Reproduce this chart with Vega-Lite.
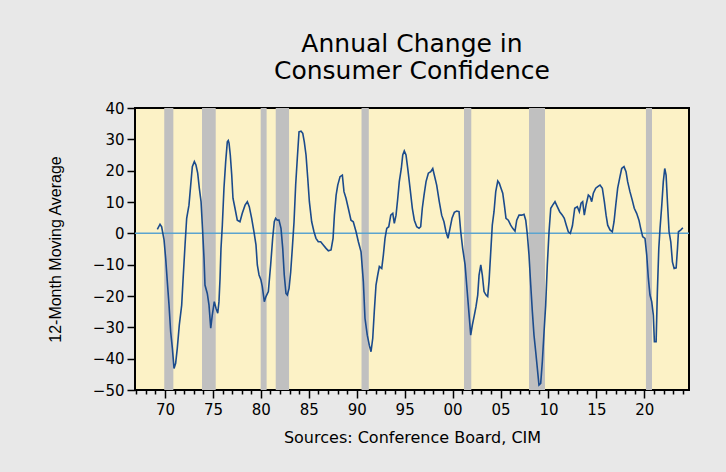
{
  "$schema": "https://vega.github.io/schema/vega-lite/v6.json",
  "width": 554,
  "height": 282,
  "autosize": {"type": "none"},
  "padding": {"left": 135, "top": 108, "right": 37, "bottom": 82},
  "background": "#E8E8E8",
  "title": {
    "text": ["Annual Change in", "Consumer Confidence"],
    "font": "DejaVu Sans",
    "fontSize": 25,
    "fontWeight": "normal",
    "color": "#000000",
    "anchor": "middle",
    "offset": 17,
    "lineHeight": 27
  },
  "config": {"view": {"stroke": "#000000", "strokeWidth": 2, "fill": "#FCF2C6"}},
  "datasets": {
    "recessions": [
      {"t": 1969.92, "t2": 1970.87},
      {"t": 1973.86, "t2": 1975.29},
      {"t": 1979.98, "t2": 1980.6},
      {"t": 1981.55, "t2": 1982.94},
      {"t": 1990.5, "t2": 1991.26},
      {"t": 2001.19, "t2": 2001.95},
      {"t": 2007.97, "t2": 2009.64},
      {"t": 2020.17, "t2": 2020.8}
    ],
    "zero": [{"v": 0}],
    "cci": [
      {"t": 1969.2, "v": 1.3}, {"t": 1969.48, "v": 2.9}, {"t": 1969.65, "v": 2.1}, {"t": 1969.9, "v": -2.1},
      {"t": 1970.07, "v": -8}, {"t": 1970.24, "v": -15.4}, {"t": 1970.42, "v": -22.9}, {"t": 1970.59, "v": -31.4},
      {"t": 1970.77, "v": -36.7}, {"t": 1970.94, "v": -43.1}, {"t": 1971.11, "v": -41.5}, {"t": 1971.28, "v": -36.7},
      {"t": 1971.49, "v": -29.3}, {"t": 1971.74, "v": -22.9}, {"t": 1971.91, "v": -13.3}, {"t": 1972.09, "v": -3.7},
      {"t": 1972.26, "v": 4.8}, {"t": 1972.5, "v": 9.0}, {"t": 1972.68, "v": 15.4}, {"t": 1972.85, "v": 21.3},
      {"t": 1973.06, "v": 22.9}, {"t": 1973.23, "v": 21.8}, {"t": 1973.41, "v": 19.2}, {"t": 1973.58, "v": 14.4},
      {"t": 1973.76, "v": 10.1}, {"t": 1973.93, "v": 0.5}, {"t": 1974.07, "v": -8}, {"t": 1974.17, "v": -16.5},
      {"t": 1974.41, "v": -19.2}, {"t": 1974.59, "v": -22.9}, {"t": 1974.77, "v": -30.3}, {"t": 1974.93, "v": -26.1},
      {"t": 1975.14, "v": -21.8}, {"t": 1975.32, "v": -23.9}, {"t": 1975.5, "v": -25.5}, {"t": 1975.63, "v": -21.8},
      {"t": 1975.74, "v": -14.4}, {"t": 1975.84, "v": -4.8}, {"t": 1975.98, "v": 2.6}, {"t": 1976.15, "v": 14.4},
      {"t": 1976.33, "v": 22.9}, {"t": 1976.5, "v": 29.2}, {"t": 1976.6, "v": 29.6}, {"t": 1976.68, "v": 28.8},
      {"t": 1976.81, "v": 25}, {"t": 1976.96, "v": 18.6}, {"t": 1977.09, "v": 11.2}, {"t": 1977.3, "v": 8.0},
      {"t": 1977.54, "v": 4.2}, {"t": 1977.82, "v": 3.7}, {"t": 1978.06, "v": 6.4}, {"t": 1978.35, "v": 9.0},
      {"t": 1978.59, "v": 10.1}, {"t": 1978.79, "v": 8.5}, {"t": 1979.04, "v": 4.8}, {"t": 1979.28, "v": 0.5},
      {"t": 1979.49, "v": -3.7}, {"t": 1979.63, "v": -10.1}, {"t": 1979.81, "v": -13.3}, {"t": 1980.0, "v": -14.8},
      {"t": 1980.15, "v": -17}, {"t": 1980.36, "v": -21.8}, {"t": 1980.53, "v": -20.2}, {"t": 1980.78, "v": -18.6},
      {"t": 1981.02, "v": -10.1}, {"t": 1981.23, "v": -1.6}, {"t": 1981.4, "v": 3.7}, {"t": 1981.54, "v": 4.8},
      {"t": 1981.71, "v": 4.2}, {"t": 1981.89, "v": 4.2}, {"t": 1982.1, "v": 1.6}, {"t": 1982.28, "v": -4.8},
      {"t": 1982.44, "v": -13.3}, {"t": 1982.62, "v": -19.2}, {"t": 1982.76, "v": -19.7}, {"t": 1982.94, "v": -17.6},
      {"t": 1983.11, "v": -12.3}, {"t": 1983.28, "v": -4.8}, {"t": 1983.46, "v": 3.7}, {"t": 1983.63, "v": 15.4},
      {"t": 1983.8, "v": 23.9}, {"t": 1983.98, "v": 32.4}, {"t": 1984.19, "v": 32.6}, {"t": 1984.37, "v": 31.9},
      {"t": 1984.53, "v": 29.2}, {"t": 1984.71, "v": 25}, {"t": 1984.89, "v": 17.6}, {"t": 1985.06, "v": 10.1},
      {"t": 1985.3, "v": 3.7}, {"t": 1985.54, "v": 0.5}, {"t": 1985.75, "v": -1.6}, {"t": 1985.99, "v": -2.7},
      {"t": 1986.24, "v": -2.7}, {"t": 1986.51, "v": -3.7}, {"t": 1986.8, "v": -4.8}, {"t": 1987.04, "v": -5.6},
      {"t": 1987.32, "v": -5.3}, {"t": 1987.53, "v": -1.6}, {"t": 1987.67, "v": 5.8}, {"t": 1987.85, "v": 12.2},
      {"t": 1988.02, "v": 15.4}, {"t": 1988.26, "v": 18.1}, {"t": 1988.5, "v": 18.6}, {"t": 1988.67, "v": 13.3},
      {"t": 1988.88, "v": 11.2}, {"t": 1989.12, "v": 8.0}, {"t": 1989.4, "v": 4.2}, {"t": 1989.64, "v": 3.7},
      {"t": 1989.93, "v": 0.5}, {"t": 1990.17, "v": -2.7}, {"t": 1990.45, "v": -5.9}, {"t": 1990.69, "v": -15.4},
      {"t": 1990.86, "v": -27.1}, {"t": 1991.1, "v": -32.5}, {"t": 1991.31, "v": -35.7}, {"t": 1991.49, "v": -37.8},
      {"t": 1991.67, "v": -33.5}, {"t": 1991.83, "v": -25}, {"t": 1992.01, "v": -16.5}, {"t": 1992.19, "v": -13.3},
      {"t": 1992.36, "v": -10.6}, {"t": 1992.61, "v": -11.2}, {"t": 1992.78, "v": -6.9}, {"t": 1992.95, "v": -1.6},
      {"t": 1993.13, "v": 1.6}, {"t": 1993.34, "v": 2.1}, {"t": 1993.55, "v": 5.8}, {"t": 1993.76, "v": 6.4},
      {"t": 1993.92, "v": 3.2}, {"t": 1994.1, "v": 5.8}, {"t": 1994.28, "v": 11.2}, {"t": 1994.44, "v": 16.5},
      {"t": 1994.65, "v": 20.7}, {"t": 1994.8, "v": 25}, {"t": 1994.96, "v": 26.3}, {"t": 1995.14, "v": 25},
      {"t": 1995.32, "v": 20.7}, {"t": 1995.56, "v": 14.4}, {"t": 1995.8, "v": 8.0}, {"t": 1996.01, "v": 4.2},
      {"t": 1996.26, "v": 2.1}, {"t": 1996.5, "v": 1.6}, {"t": 1996.67, "v": 2.1}, {"t": 1996.84, "v": 8.0},
      {"t": 1997.02, "v": 12.2}, {"t": 1997.23, "v": 16.5}, {"t": 1997.47, "v": 19.2}, {"t": 1997.72, "v": 19.7},
      {"t": 1997.93, "v": 20.7}, {"t": 1998.09, "v": 18.6}, {"t": 1998.34, "v": 15.4}, {"t": 1998.61, "v": 10.1},
      {"t": 1998.86, "v": 5.8}, {"t": 1999.1, "v": 3.7}, {"t": 1999.31, "v": 0.5}, {"t": 1999.52, "v": -1.6},
      {"t": 1999.73, "v": 1.6}, {"t": 1999.94, "v": 4.8}, {"t": 2000.18, "v": 6.7}, {"t": 2000.43, "v": 7.1},
      {"t": 2000.67, "v": 6.9}, {"t": 2000.85, "v": 0.5}, {"t": 2001.05, "v": -4.8}, {"t": 2001.3, "v": -10},
      {"t": 2001.47, "v": -16.5}, {"t": 2001.64, "v": -22.9}, {"t": 2001.89, "v": -32.5}, {"t": 2002.06, "v": -29.3},
      {"t": 2002.27, "v": -26.1}, {"t": 2002.44, "v": -23.4}, {"t": 2002.62, "v": -19.7}, {"t": 2002.76, "v": -13.3},
      {"t": 2002.94, "v": -10.1}, {"t": 2003.1, "v": -13.3}, {"t": 2003.28, "v": -18.6}, {"t": 2003.49, "v": -19.7},
      {"t": 2003.66, "v": -20.2}, {"t": 2003.8, "v": -15.4}, {"t": 2003.98, "v": -5.9}, {"t": 2004.14, "v": 2.6},
      {"t": 2004.32, "v": 6.9}, {"t": 2004.5, "v": 13.3}, {"t": 2004.71, "v": 16.7}, {"t": 2004.87, "v": 16},
      {"t": 2005.05, "v": 14.4}, {"t": 2005.23, "v": 12.8}, {"t": 2005.4, "v": 9.0}, {"t": 2005.57, "v": 4.8},
      {"t": 2005.81, "v": 4.2}, {"t": 2006.06, "v": 2.6}, {"t": 2006.27, "v": 1.6}, {"t": 2006.51, "v": 0.7},
      {"t": 2006.69, "v": 4.2}, {"t": 2006.93, "v": 5.8}, {"t": 2007.21, "v": 5.8}, {"t": 2007.45, "v": 6.1},
      {"t": 2007.63, "v": 4.2}, {"t": 2007.8, "v": -0.5}, {"t": 2007.97, "v": -6.9}, {"t": 2008.15, "v": -16.5},
      {"t": 2008.32, "v": -25}, {"t": 2008.49, "v": -32.5}, {"t": 2008.67, "v": -37.8}, {"t": 2008.84, "v": -43.1},
      {"t": 2009.01, "v": -48.4}, {"t": 2009.19, "v": -47.9}, {"t": 2009.36, "v": -41}, {"t": 2009.54, "v": -31.4},
      {"t": 2009.71, "v": -22.9}, {"t": 2009.88, "v": -10.1}, {"t": 2010.06, "v": 0.5}, {"t": 2010.24, "v": 8.0},
      {"t": 2010.44, "v": 9.0}, {"t": 2010.68, "v": 10.1}, {"t": 2010.92, "v": 8.5}, {"t": 2011.17, "v": 6.9},
      {"t": 2011.45, "v": 5.8}, {"t": 2011.65, "v": 4.8}, {"t": 2011.86, "v": 2.6}, {"t": 2012.07, "v": 0.5},
      {"t": 2012.28, "v": 0}, {"t": 2012.5, "v": 2.4}, {"t": 2012.74, "v": 8.0}, {"t": 2013.01, "v": 8.5},
      {"t": 2013.22, "v": 6.9}, {"t": 2013.4, "v": 9.6}, {"t": 2013.57, "v": 10.1}, {"t": 2013.74, "v": 5.8},
      {"t": 2013.92, "v": 9.0}, {"t": 2014.16, "v": 12.2}, {"t": 2014.34, "v": 11.7}, {"t": 2014.51, "v": 10.1},
      {"t": 2014.68, "v": 12.8}, {"t": 2014.93, "v": 14.4}, {"t": 2015.14, "v": 14.9}, {"t": 2015.38, "v": 15.4},
      {"t": 2015.62, "v": 14.4}, {"t": 2015.83, "v": 10.1}, {"t": 2016.01, "v": 5.8}, {"t": 2016.18, "v": 2.6},
      {"t": 2016.42, "v": 1.1}, {"t": 2016.66, "v": 0.5}, {"t": 2016.84, "v": 3.7}, {"t": 2017.02, "v": 9.0},
      {"t": 2017.22, "v": 14.4}, {"t": 2017.46, "v": 18.1}, {"t": 2017.64, "v": 20.7}, {"t": 2017.88, "v": 21.3},
      {"t": 2018.09, "v": 19.7}, {"t": 2018.26, "v": 16.5}, {"t": 2018.5, "v": 13.3}, {"t": 2018.74, "v": 10.6},
      {"t": 2018.95, "v": 8.0}, {"t": 2019.2, "v": 6.4}, {"t": 2019.44, "v": 4.2}, {"t": 2019.62, "v": 1.6},
      {"t": 2019.83, "v": -1.1}, {"t": 2020.07, "v": -1.6}, {"t": 2020.25, "v": -6.9}, {"t": 2020.42, "v": -14.4},
      {"t": 2020.59, "v": -19.7}, {"t": 2020.77, "v": -21.8}, {"t": 2020.94, "v": -26.1}, {"t": 2021.05, "v": -34.6},
      {"t": 2021.23, "v": -34.6}, {"t": 2021.36, "v": -18.6}, {"t": 2021.51, "v": -4.8}, {"t": 2021.64, "v": 1.6},
      {"t": 2021.82, "v": 9.0}, {"t": 2021.98, "v": 16.5}, {"t": 2022.13, "v": 20.7}, {"t": 2022.27, "v": 18.6},
      {"t": 2022.41, "v": 10.1}, {"t": 2022.58, "v": 0.5}, {"t": 2022.76, "v": -2.7}, {"t": 2022.93, "v": -9.1},
      {"t": 2023.11, "v": -11.2}, {"t": 2023.32, "v": -11}, {"t": 2023.46, "v": -4.8}, {"t": 2023.56, "v": 0.5},
      {"t": 2023.81, "v": 1.1}, {"t": 2024.02, "v": 1.8}
    ]
  },
  "layer": [
    {
      "data": {"name": "recessions"},
      "mark": {"type": "rect", "color": "#C0C0C0"},
      "encoding": {
        "x": {
          "field": "t", "type": "quantitative",
          "scale": {"domain": [1966.87, 2024.66], "nice": false, "zero": false},
          "axis": {
            "values": [1967,1968,1969,1970,1971,1972,1973,1974,1975,1976,1977,1978,1979,1980,1981,1982,1983,1984,1985,1986,1987,1988,1989,1990,1991,1992,1993,1994,1995,1996,1997,1998,1999,2000,2001,2002,2003,2004,2005,2006,2007,2008,2009,2010,2011,2012,2013,2014,2015,2016,2017,2018,2019,2020,2021,2022,2023,2024],
            "labelExpr": "datum.value % 5 == 0 ? ((datum.value % 100) < 10 ? '0' + (datum.value % 100) : '' + (datum.value % 100)) : ''",
            "tickSize": {"condition": {"test": "datum.value % 5 == 0", "value": 8}, "value": 4},
            "tickColor": "#000000", "tickWidth": 1.5,
            "labelFont": "DejaVu Sans", "labelFontSize": 15, "labelColor": "#000000",
            "labelPadding": 4, "labelOverlap": false, "labelFlush": false,
            "domain": false, "grid": false,
            "title": "Sources: Conference Board, CIM",
            "titleFont": "DejaVu Sans", "titleFontSize": 16, "titleFontWeight": "normal", "titleColor": "#000000",
            "titlePadding": 12
          }
        },
        "x2": {"field": "t2"}
      }
    },
    {
      "data": {"name": "zero"},
      "mark": {"type": "rule", "color": "#5BA4CF", "strokeWidth": 1.5},
      "encoding": {
        "y": {
          "field": "v", "type": "quantitative",
          "scale": {"domain": [-50, 40], "nice": false, "zero": false},
          "axis": {
            "values": [-50,-40,-30,-20,-10,0,10,20,30,40],
            "title": "12-Month Moving Average",
            "titleFont": "Liberation Sans", "titleFontSize": 16, "titleFontWeight": "normal", "titleColor": "#000000",
            "titlePadding": 29,
            "labelFont": "DejaVu Sans", "labelFontSize": 15, "labelColor": "#000000", "labelPadding": 3,
            "tickSize": 8, "tickColor": "#000000", "tickWidth": 1.5,
            "domain": false, "grid": false
          }
        }
      }
    },
    {
      "data": {"name": "cci"},
      "mark": {"type": "line", "color": "#1B4B8C", "strokeWidth": 1.6},
      "encoding": {
        "x": {
          "field": "t", "type": "quantitative",
          "scale": {"domain": [1966.87, 2024.66], "nice": false, "zero": false},
          "axis": {
            "values": [1967,1968,1969,1970,1971,1972,1973,1974,1975,1976,1977,1978,1979,1980,1981,1982,1983,1984,1985,1986,1987,1988,1989,1990,1991,1992,1993,1994,1995,1996,1997,1998,1999,2000,2001,2002,2003,2004,2005,2006,2007,2008,2009,2010,2011,2012,2013,2014,2015,2016,2017,2018,2019,2020,2021,2022,2023,2024],
            "labelExpr": "datum.value % 5 == 0 ? ((datum.value % 100) < 10 ? '0' + (datum.value % 100) : '' + (datum.value % 100)) : ''",
            "tickSize": {"condition": {"test": "datum.value % 5 == 0", "value": 8}, "value": 4},
            "tickColor": "#000000", "tickWidth": 1.5,
            "labelFont": "DejaVu Sans", "labelFontSize": 15, "labelColor": "#000000",
            "labelPadding": 4, "labelOverlap": false, "labelFlush": false,
            "domain": false, "grid": false,
            "title": "Sources: Conference Board, CIM",
            "titleFont": "DejaVu Sans", "titleFontSize": 16, "titleFontWeight": "normal", "titleColor": "#000000",
            "titlePadding": 12
          }
        },
        "y": {
          "field": "v", "type": "quantitative",
          "scale": {"domain": [-50, 40], "nice": false, "zero": false},
          "axis": {
            "values": [-50,-40,-30,-20,-10,0,10,20,30,40],
            "title": "12-Month Moving Average",
            "titleFont": "Liberation Sans", "titleFontSize": 16, "titleFontWeight": "normal", "titleColor": "#000000",
            "titlePadding": 29,
            "labelFont": "DejaVu Sans", "labelFontSize": 15, "labelColor": "#000000", "labelPadding": 3,
            "tickSize": 8, "tickColor": "#000000", "tickWidth": 1.5,
            "domain": false, "grid": false
          }
        }
      }
    }
  ]
}
